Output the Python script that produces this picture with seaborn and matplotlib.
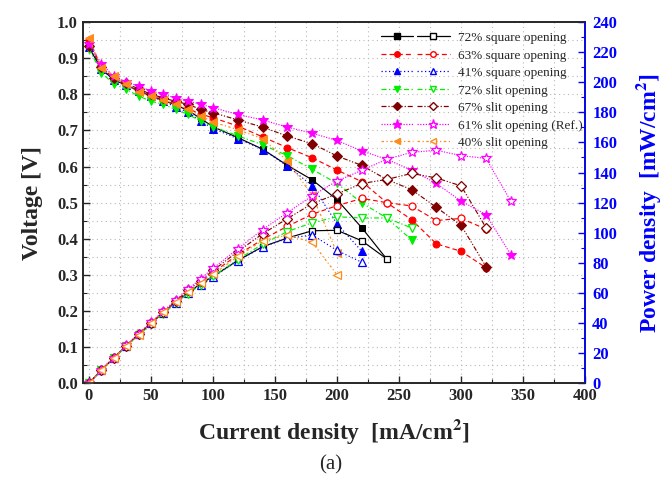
import matplotlib
matplotlib.use("Agg")
import matplotlib.pyplot as plt
import seaborn as sns
import pandas as pd
from matplotlib.lines import Line2D
from matplotlib.legend_handler import HandlerTuple
from matplotlib.ticker import MultipleLocator

# ---------- data ----------
I_low = [0, 10, 20, 30, 40, 50, 60, 70, 80, 90, 100, 120, 140, 160, 180, 200,
         220, 240, 260, 280, 300, 320, 340]

labels = ["72% square opening", "63% square opening", "41% square opening",
          "72% slit opening", "67% slit opening", "61% slit opening (Ref.)",
          "40% slit opening"]

v_sq72 = [0.93, 0.87, 0.84, 0.825, 0.81, 0.795, 0.783, 0.77, 0.755, 0.733, 0.71,
          0.68, 0.648, 0.603, 0.563, 0.508, 0.43, 0.344]
p_sq72 = [0, 8.7, 16.8, 24.8, 32.4, 39.8, 47.0, 53.9, 60.4, 66.0, 71.0,
          81.6, 90.7, 96.5, 101.3, 101.6, 94.6, 82.6]

v_sq63 = [0.95, 0.875, 0.845, 0.825, 0.81, 0.795, 0.785, 0.772, 0.76, 0.745, 0.735,
          0.712, 0.682, 0.652, 0.624, 0.59, 0.558, 0.50, 0.453, 0.386, 0.365, 0.32]
p_sq63 = [0, 8.8, 16.9, 24.8, 32.4, 39.8, 47.1, 54.0, 60.8, 67.1, 73.5,
          85.4, 95.5, 104.3, 112.3, 118.0, 122.8, 120.0, 117.8, 108.1, 109.5, 102.4]

v_sq41 = [0.93, 0.87, 0.84, 0.825, 0.81, 0.795, 0.78, 0.765, 0.75, 0.726, 0.705,
          0.677, 0.647, 0.601, 0.547, 0.441, 0.365]
p_sq41 = [0, 8.7, 16.8, 24.8, 32.4, 39.8, 46.8, 53.6, 60.0, 65.3, 70.5,
          81.2, 90.6, 96.2, 98.5, 88.2, 80.3]

v_sl72 = [0.925, 0.86, 0.828, 0.814, 0.795, 0.781, 0.772, 0.758, 0.744, 0.726, 0.71,
          0.685, 0.66, 0.63, 0.592, 0.553, 0.499, 0.4575, 0.397]
p_sl72 = [0, 8.6, 16.6, 24.4, 31.8, 39.1, 46.3, 53.1, 59.5, 65.3, 71.0,
          82.2, 92.4, 100.8, 106.6, 110.6, 109.8, 109.8, 103.2]

v_sl67 = [0.935, 0.875, 0.845, 0.83, 0.815, 0.80, 0.79, 0.78, 0.772, 0.758, 0.749,
          0.729, 0.709, 0.684, 0.663, 0.629, 0.603, 0.564, 0.536, 0.487, 0.437, 0.323]
p_sl67 = [0, 8.8, 16.9, 24.9, 32.6, 40.0, 47.4, 54.6, 61.8, 68.2, 74.9,
          87.5, 99.3, 109.4, 119.3, 125.8, 132.7, 135.4, 139.4, 136.4, 131.1, 103.4]

v_sl61 = [0.94, 0.885, 0.85, 0.835, 0.822, 0.81, 0.80, 0.789, 0.781, 0.772, 0.763,
          0.744, 0.729, 0.709, 0.692, 0.672, 0.643, 0.62, 0.59, 0.553, 0.504, 0.467, 0.356]
p_sl61 = [0, 8.9, 17.0, 25.1, 32.9, 40.5, 48.0, 55.2, 62.5, 69.5, 76.3,
          89.3, 102.1, 113.4, 124.6, 134.4, 141.5, 148.8, 153.4, 154.8, 151.2, 149.4, 121.0]

v_sl40 = [0.957, 0.874, 0.851, 0.828, 0.805, 0.795, 0.785, 0.772, 0.758, 0.74, 0.723,
          0.702, 0.677, 0.615, 0.52, 0.36]
p_sl40 = [0, 8.7, 17.0, 24.8, 32.2, 39.8, 47.1, 54.0, 60.6, 66.6, 72.3,
          84.2, 94.8, 98.4, 93.6, 72.0]

volts = [v_sq72, v_sq63, v_sq41, v_sl72, v_sl67, v_sl61, v_sl40]
powers = [p_sq72, p_sq63, p_sq41, p_sl72, p_sl67, p_sl61, p_sl40]

colors = ["black", "#ff0000", "#0000ff", "#00ee00", "#800000", "#ff00ff", "#ff8c1a"]
markers = ["s", "o", "^", "v", "D", "*", "<"]
styles = ["-", (0, (4, 2.5)), (0, (1, 2)), (0, (4, 2, 1, 2)),
          (0, (4, 1.5, 1, 1.5, 1, 1.5)), (0, (1, 1.2)), (0, (2, 2, 1, 2))]
msizes = [5, 5, 6, 6, 5, 7.5, 6]

rows = []
for lab, v, p in zip(labels, volts, powers):
    for i, (vv, pp) in enumerate(zip(v, p)):
        rows.append({"series": lab, "I": I_low[i], "V": vv, "P": pp})
df = pd.DataFrame(rows)

# ---------- figure ----------
sns.set_style("ticks")
plt.rcParams["font.family"] = ["Liberation Serif", "DejaVu Serif"]
plt.rcParams["mathtext.fontset"] = "stix"

fig = plt.figure(figsize=(6.62, 4.79), dpi=100)
ax = fig.add_axes([0.125, 0.2, 0.759, 0.754])
ax2 = ax.twinx()

for k, lab in enumerate(labels):
    d = df[df["series"] == lab]
    sns.lineplot(data=d, x="I", y="V", ax=ax, color=colors[k], marker=markers[k],
                 markersize=msizes[k], markeredgecolor=colors[k], linewidth=0.85,
                 linestyle=styles[k], sort=False, legend=False)
    sns.lineplot(data=d, x="I", y="P", ax=ax2, color=colors[k], marker=markers[k],
                 markersize=msizes[k], markerfacecolor="white",
                 markeredgecolor=colors[k], markeredgewidth=0.9, linewidth=0.85,
                 linestyle=styles[k], sort=False, legend=False)

ax.set_xlim(-5, 400)
ax.set_ylim(0, 1.0)
ax2.set_ylim(0, 240)

ax.xaxis.set_major_locator(MultipleLocator(50))
ax.xaxis.set_minor_locator(MultipleLocator(25))
ax.yaxis.set_major_locator(MultipleLocator(0.1))
ax.yaxis.set_minor_locator(MultipleLocator(0.05))
ax2.yaxis.set_major_locator(MultipleLocator(20))
ax2.yaxis.set_minor_locator(MultipleLocator(10))

ax.grid(True, which="both", color="#b8b8b8", linestyle=(0, (1, 3)), linewidth=0.8)
ax.set_axisbelow(True)

for a in (ax, ax2):
    for s in a.spines.values():
        s.set_linewidth(1.2)
ax2.spines["right"].set_color("#0000ff")

ax.tick_params(axis="both", which="both", direction="in", top=False)
ax.tick_params(which="major", length=5, width=1)
ax.tick_params(which="minor", length=3, width=0.8)
ax.tick_params(axis="y", which="both", right=False)
ax2.tick_params(axis="y", which="both", direction="in", colors="#0000ff", pad=5)
ax2.tick_params(which="major", length=5, width=1)
ax2.tick_params(which="minor", length=3, width=0.8)

for t in ax.get_xticklabels() + ax.get_yticklabels():
    t.set_fontweight("bold")
    t.set_fontsize(12)
for t in ax2.get_yticklabels():
    t.set_fontweight("bold")
    t.set_fontsize(12)
    t.set_color("#0000ff")

ax.set_xlabel("Current density  [mA/cm$^\\mathbf{2}$]", fontsize=17, fontweight="bold", labelpad=9)
ax.set_ylabel("Voltage [V]", fontsize=17, fontweight="bold", labelpad=10)
ax2.set_ylabel("Power density  [mW/cm$^\\mathbf{2}$]", fontsize=17, fontweight="bold",
               color="#0000ff", labelpad=12)

fig.text(0.5, 0.03, "(a)", ha="center", va="center", fontsize=15)

# legend: filled (voltage) + open (power) marker pair per series
handles = []
for k in range(len(labels)):
    h1 = Line2D([], [], color=colors[k], marker=markers[k], markersize=msizes[k] - 1,
                linestyle=styles[k], linewidth=0.9)
    h2 = Line2D([], [], color=colors[k], marker=markers[k], markersize=msizes[k] - 1,
                markerfacecolor="white", linestyle=styles[k], linewidth=0.9)
    handles.append((h1, h2))
ax.legend(handles, labels, handler_map={tuple: HandlerTuple(ndivide=None, pad=0.3)},
          loc="upper right", bbox_to_anchor=(1.01, 0.995), frameon=False, fontsize=9.5,
          handlelength=5.2, labelspacing=0.4, handletextpad=0.6, borderaxespad=0.2)

plt.savefig("out.png", dpi=100)
